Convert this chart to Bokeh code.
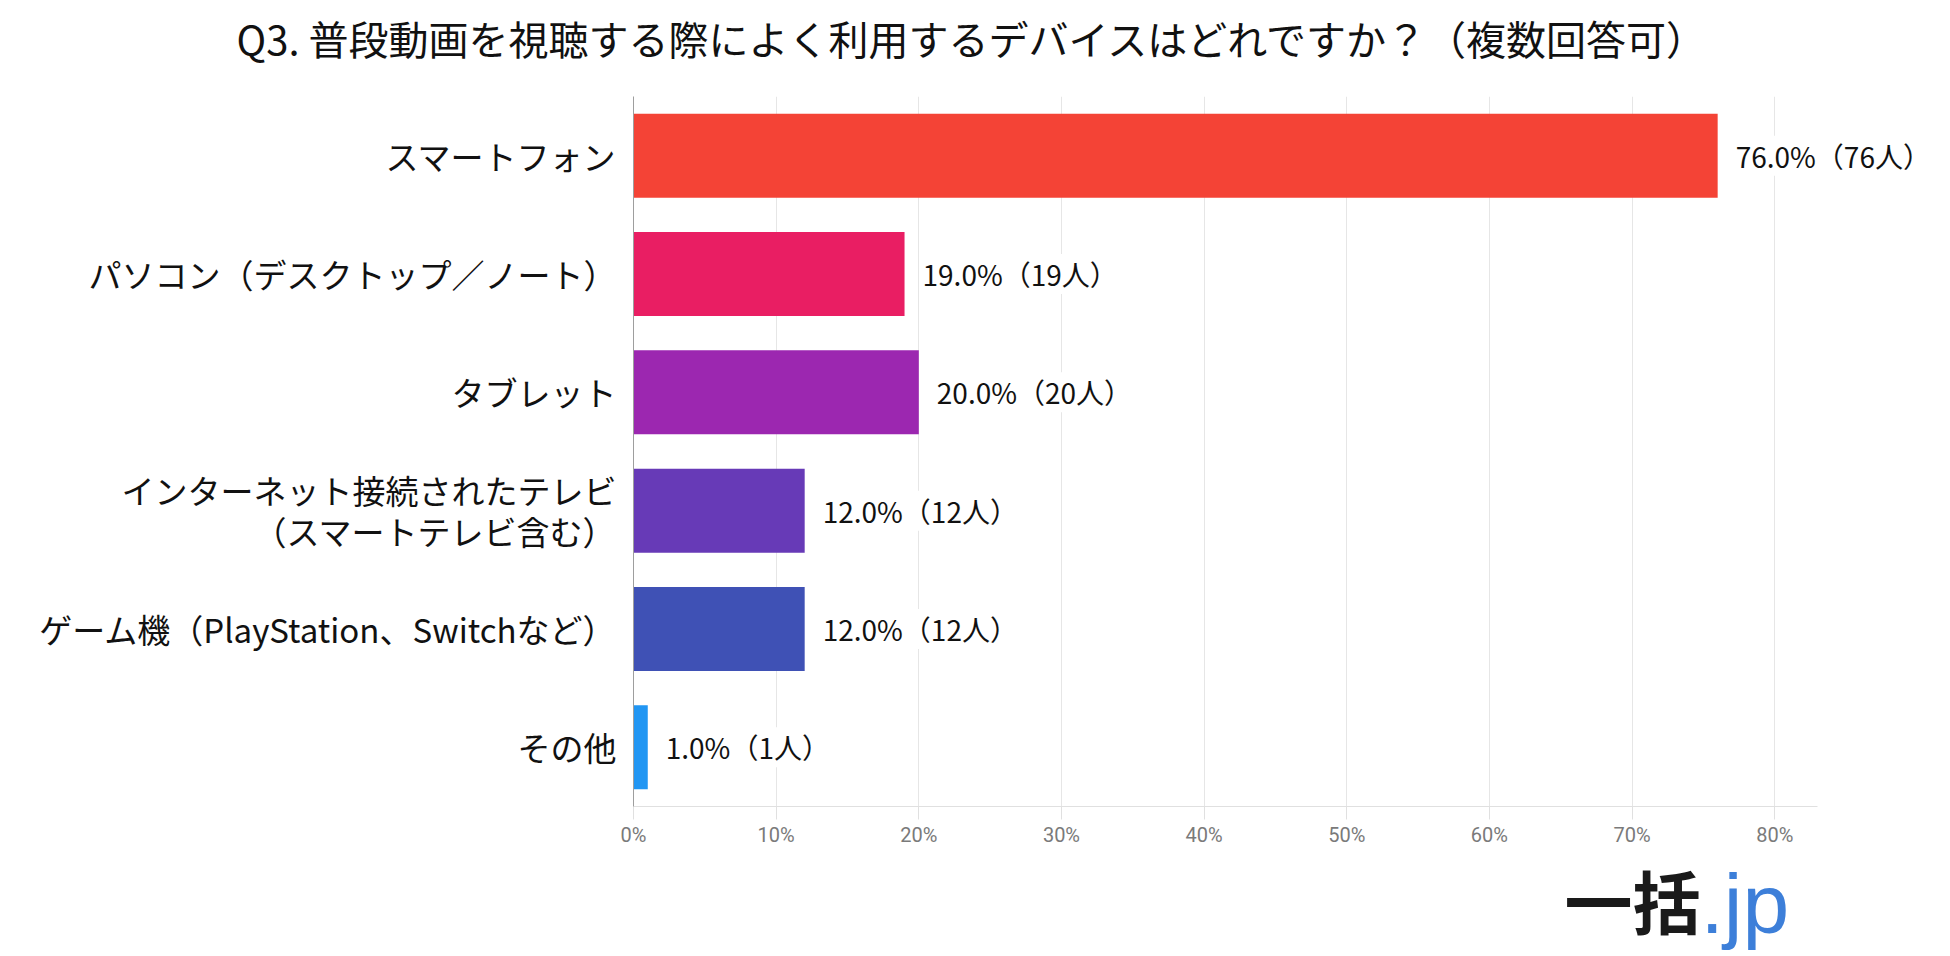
from bokeh.plotting import figure
from bokeh.models import (FactorRange, Range1d, ColumnDataSource, LabelSet, FixedTicker, Title)
from bokeh.layouts import column
from bokeh.core.properties import value
from bokeh.embed import file_html
from bokeh.resources import INLINE

title_text = "Q3. 普段動画を視聴する際によく利用するデバイスはどれですか？（複数回答可）"
categories = [
    "スマートフォン",
    "パソコン（デスクトップ／ノート）",
    "タブレット",
    "インターネット接続されたテレビ\n（スマートテレビ含む）",
    "ゲーム機（PlayStation、Switchなど）",
    "その他",
]
percents = [76.0, 19.0, 20.0, 12.0, 12.0, 1.0]
counts = [76, 19, 20, 12, 12, 1]
bar_colors = ["#F44336", "#E91E63", "#9C27B0", "#673AB7", "#3F51B5", "#2196F3"]
x_ticks = [0, 10, 20, 30, 40, 50, 60, 70, 80]
x_tick_labels = ["0%", "10%", "20%", "30%", "40%", "50%", "60%", "70%", "80%"]
logo_main = "一括"
logo_suffix = ".jp"

JP = "Noto Sans CJK JP"
W = 1934
FRAME_LEFT = 633

# ---- main chart ----
value_labels = [f"{v:.1f}%（{n}人）" for v, n in zip(percents, counts)]
src = ColumnDataSource(dict(cat=categories, val=percents, color=bar_colors, lab=value_labels))

MH = 849
p = figure(
    width=W, height=MH,
    y_range=FactorRange(factors=list(reversed(categories))),
    x_range=Range1d(0, 91.2),
    output_backend="svg", toolbar_location=None,
    min_border_left=FRAME_LEFT, min_border_right=0, min_border_top=96, min_border_bottom=40,
)
p.outline_line_color = None
p.title.visible = False

# spacer between chart and title (nearest the frame), then the title itself
p.add_layout(Title(text=" ", text_font=JP, text_font_size="12px", standoff=5), "above")
p.add_layout(Title(text=title_text, align="left", vertical_align="top",
                   offset=236 - FRAME_LEFT, standoff=8,
                   text_font=JP, text_font_size="40px", text_font_style="normal",
                   text_color="#111111"), "above")

p.hbar(y="cat", right="val", left=0, height=0.71, color="color", line_color=None, source=src)

labels = LabelSet(x="val", y="cat", text="lab", source=src, x_offset=18,
                  text_baseline="middle", text_align="left",
                  text_font=value(JP), text_font_size="28px", text_color="#111111",
                  background_fill_color="white")
p.add_layout(labels)

p.ygrid.grid_line_color = None
p.xgrid.grid_line_color = "#e6e6e6"
p.xgrid.ticker = FixedTicker(ticks=x_ticks)

xa = p.xaxis[0]
xa.ticker = FixedTicker(ticks=x_ticks)
xa.bounds = (0, 83)
xa.major_label_overrides = {t: l for t, l in zip(x_ticks, x_tick_labels)}
xa.axis_line_color = "#e0e0e0"
xa.major_tick_line_color = "#e0e0e0"
xa.major_tick_in = 0
xa.major_tick_out = 13
xa.minor_tick_line_color = None
xa.major_label_text_font = "Roboto"
xa.major_label_text_font_size = "20px"
xa.major_label_text_color = "#7a7a7a"
xa.major_label_standoff = 3

ya = p.yaxis[0]
ya.axis_line_color = "#9e9e9e"
ya.major_tick_line_color = None
ya.minor_tick_line_color = None
ya.major_tick_in = 0
ya.major_tick_out = 0
ya.major_label_text_font = JP
ya.major_label_text_font_size = "33px"
ya.major_label_text_color = "#111111"
ya.major_label_text_line_height = 0.86
ya.major_label_standoff = 17

# ---- logo strip (its frame is aligned with the chart frame by the column layout) ----
LH = 956 - MH
pl = figure(width=W, height=LH, x_range=Range1d(FRAME_LEFT, W), y_range=Range1d(LH, 0),
            output_backend="svg", toolbar_location=None,
            min_border_left=FRAME_LEFT, min_border_right=0, min_border_top=0, min_border_bottom=0)
pl.axis.visible = False
pl.grid.visible = False
pl.outline_line_color = None
pl.text(x=[1700], y=[0.5], text=[logo_main], text_align="right", text_baseline="top",
        text_font=value(JP), text_font_size="68px", text_font_style="bold", text_color="#1a1a1a")
pl.text(x=[1700], y=[7], text=[logo_suffix], text_align="left", text_baseline="top",
        text_font=value("Liberation Sans"), text_font_size="84px", text_color="#3d7fd9")

layout = column(p, pl, spacing=0)
open("out.html", "w").write(file_html(layout, INLINE))
